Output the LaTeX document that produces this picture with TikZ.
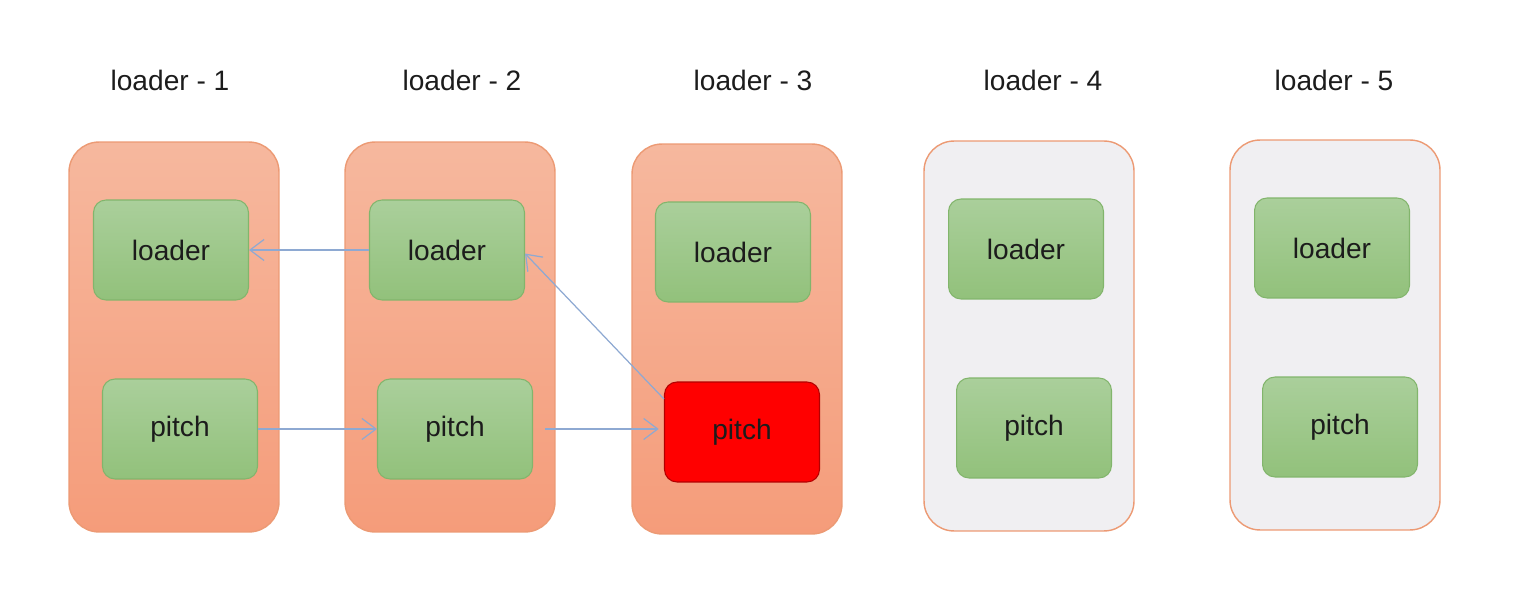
\documentclass[tikz,border=0pt]{standalone}
\usepackage{fontspec}
\setmainfont{Liberation Sans}
\usepackage{xcolor}
\usetikzlibrary{arrows.meta}

\definecolor{stageedge}{HTML}{EC9A74}
\definecolor{stagetop}{HTML}{F6B89E}
\definecolor{stagebot}{HTML}{F59C7A}
\definecolor{idlefill}{HTML}{F0EFF2}
\definecolor{greentop}{HTML}{AACF9B}
\definecolor{greenbot}{HTML}{92C17B}
\definecolor{greenedge}{HTML}{82B56C}
\definecolor{flowblue}{HTML}{8EA9D2}
\definecolor{inktext}{HTML}{1C1C1C}

\begin{document}
\begin{tikzpicture}[x=0.02cm,y=-0.02cm,
  stage/.style={draw=stageedge, line width=0.8pt, rounded corners=0.6cm,
    minimum width=4.2cm, minimum height=7.8cm, top color=stagetop, bottom color=stagebot},
  idle/.style={draw=stageedge, line width=0.8pt, rounded corners=0.6cm,
    minimum width=4.2cm, minimum height=7.8cm, fill=idlefill},
  part/.style={draw=greenedge, line width=0.6pt, rounded corners=0.25cm,
    minimum width=3.1cm, minimum height=2cm, top color=greentop, bottom color=greenbot,
    text=inktext, font=\fontsize{16}{18}\selectfont},
  hot/.style={draw=red!70!black, line width=0.6pt, rounded corners=0.25cm,
    minimum width=3.1cm, minimum height=2cm, fill=red,
    text=inktext, font=\fontsize{16}{18}\selectfont},
  title/.style={text=inktext, font=\fontsize{16}{18}\selectfont},
  flow/.style={draw=flowblue, line width=0.7pt, -{Straight Barb[length=8pt,width=12pt]}}]
\useasboundingbox (0,0) rectangle (1514,597);

\node[title] (t1) at (170,80) {loader - 1};
\node[title] (t2) at (462,80) {loader - 2};
\node[title] (t3) at (753,80) {loader - 3};
\node[title] (t4) at (1043,80) {loader - 4};
\node[title] (t5) at (1334,80) {loader - 5};

\node[stage] (s1) at (174,337) {};
\node[stage] (s2) at (450,337) {};
\node[stage] (s3) at (737,339) {};
\node[idle] (s4) at (1029,336) {};
\node[idle] (s5) at (1335,335) {};

\node[part] (l1) at (171,250) {loader};
\node[part] (p1) at (180,429) {pitch};
\node[part] (l2) at (447,250) {loader};
\node[part] (p2) at (455,429) {pitch};
\node[part] (l3) at (733,252) {loader};
\node[hot] (p3) at (742,432) {pitch};
\node[part] (l4) at (1026,249) {loader};
\node[part] (p4) at (1034,428) {pitch};
\node[part] (l5) at (1332,248) {loader};
\node[part] (p5) at (1340,427) {pitch};

\draw[flow] (l2.west) -- (l1.east);
\draw[flow] (p1.east) -- (p2.west);
\draw[flow, shorten <=7pt] (p2.east) -- ([xshift=-3pt]p3.west |- p2.east);
\draw[flow] ([yshift=-10pt]p3.north west) -- ([yshift=-2pt]l2.east);

\end{tikzpicture}
\end{document}
